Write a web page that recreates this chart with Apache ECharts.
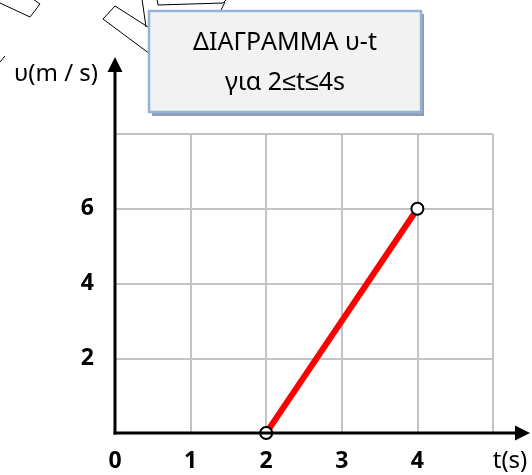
<!DOCTYPE html>
<html>
<head>
<meta charset="utf-8">
<script src="https://cdn.jsdelivr.net/npm/echarts@6/dist/echarts.min.js"></script>
<style>html,body{margin:0;padding:0;background:#fff}#c{width:532px;height:475px}</style>
</head>
<body>
<div id="c"></div>
<script>
// Data
var times = [2, 4];
var velocities = [0, 6];
var xTickLabels = [0, 1, 2, 3, 4];
var yTickLabels = [2, 4, 6];
var titleLines = ['ΔΙΑΓΡΑΜΜΑ υ-t', 'για 2≤t≤4s'];
var xName = 't(s)';
var yName = 'υ(m / s)';

var chart = echarts.init(document.getElementById('c'));
var FONT = '"Noto Sans", sans-serif';

var option = {
  animation: false,
  backgroundColor: '#fff',
  grid: { left: 115, top: 134, right: 39, bottom: 42 },
  xAxis: {
    type: 'value', min: 0, max: 5, interval: 1,
    axisLine: { show: false }, axisTick: { show: false },
    splitLine: { show: true, lineStyle: { color: '#c3c3c3', width: 2 } },
    axisLabel: {
      margin: 17, color: '#000', fontWeight: 'bold', fontSize: 23, fontFamily: FONT,
      formatter: function (v) { return xTickLabels.indexOf(v) >= 0 ? String(v) : ''; }
    }
  },
  yAxis: {
    type: 'value', min: 0, max: 8, interval: 2,
    axisLine: { show: false }, axisTick: { show: false },
    splitLine: { show: true, lineStyle: { color: '#c3c3c3', width: 2 } },
    axisLabel: {
      margin: 21, color: '#000', fontWeight: 'bold', fontSize: 23, fontFamily: FONT,
      formatter: function (v) { return yTickLabels.indexOf(v) >= 0 ? String(v) : ''; }
    }
  },
  series: [{
    type: 'line',
    z: 5,
    data: times.map(function (t, i) { return [t, velocities[i]]; }),
    lineStyle: { color: '#ff0000', width: 6 },
    symbol: 'circle', symbolSize: 12,
    itemStyle: { color: '#ffffff', borderColor: '#000', borderWidth: 2 }
  }]
};
chart.setOption(option);

var o = chart.convertToPixel({ gridIndex: 0 }, [0, 0]);
var ox = o[0], oy = o[1];
var xEnd = 530, yEnd = 57;

var shapeStyle = { stroke: '#000', lineWidth: 1, fill: 'none' };
chart.setOption({
  graphic: { elements: [
    // decorative partial shapes at top-left
    { type: 'polyline', z: 0, shape: { points: [[0, 3], [30, 17], [40, 4], [33, -1]] }, style: shapeStyle },
    { type: 'polyline', z: 0, shape: { points: [[0, 62], [5, 56]] }, style: shapeStyle },
    { type: 'polyline', z: 0, shape: { points: [[150, 54], [103, 19], [115, 6], [148, 27]] }, style: shapeStyle },
    { type: 'polyline', z: 0, shape: { points: [[142, -1], [146, 27]] }, style: shapeStyle },
    { type: 'polyline', z: 0, shape: { points: [[157, -1], [158, 5], [223, 3], [227, -1]] }, style: shapeStyle },
    { type: 'polyline', z: 0, shape: { points: [[225, 2], [220, 12]] }, style: shapeStyle },
    // axes with arrows
    { type: 'line', z: 10, shape: { x1: ox - 1.5, y1: oy, x2: xEnd - 12, y2: oy }, style: { stroke: '#000', lineWidth: 3 } },
    { type: 'polygon', z: 10, shape: { points: [[xEnd, oy], [xEnd - 15, oy - 7.5], [xEnd - 15, oy + 7.5]] }, style: { fill: '#000' } },
    { type: 'line', z: 10, shape: { x1: ox, y1: oy + 1.5, x2: ox, y2: yEnd + 12 }, style: { stroke: '#000', lineWidth: 3 } },
    { type: 'polygon', z: 10, shape: { points: [[ox, yEnd], [ox - 7.5, yEnd + 15], [ox + 7.5, yEnd + 15]] }, style: { fill: '#000' } },
    // axis names
    { type: 'text', z: 10, x: 510, y: 461, style: { text: xName, fill: '#000', font: '24px ' + FONT, align: 'center', verticalAlign: 'middle' } },
    { type: 'text', z: 10, x: 56, y: 74, style: { text: yName, fill: '#000', font: '24px ' + FONT, align: 'center', verticalAlign: 'middle' } },
    // title box
    { type: 'rect', z: 20, shape: { x: 152, y: 14, width: 272, height: 102 }, style: { fill: '#8e9db5' } },
    { type: 'rect', z: 21, shape: { x: 149, y: 11, width: 272, height: 101 }, style: { fill: '#f2f2f2', stroke: '#95b3d7', lineWidth: 2.5 } },
    { type: 'text', z: 22, x: 285, y: 43, style: { text: titleLines[0], fill: '#000', font: '25px ' + FONT, align: 'center', verticalAlign: 'middle' } },
    { type: 'text', z: 22, x: 285, y: 83, style: { text: titleLines[1], fill: '#000', font: '25px ' + FONT, align: 'center', verticalAlign: 'middle' } }
  ] }
});
</script>
</body>
</html>
